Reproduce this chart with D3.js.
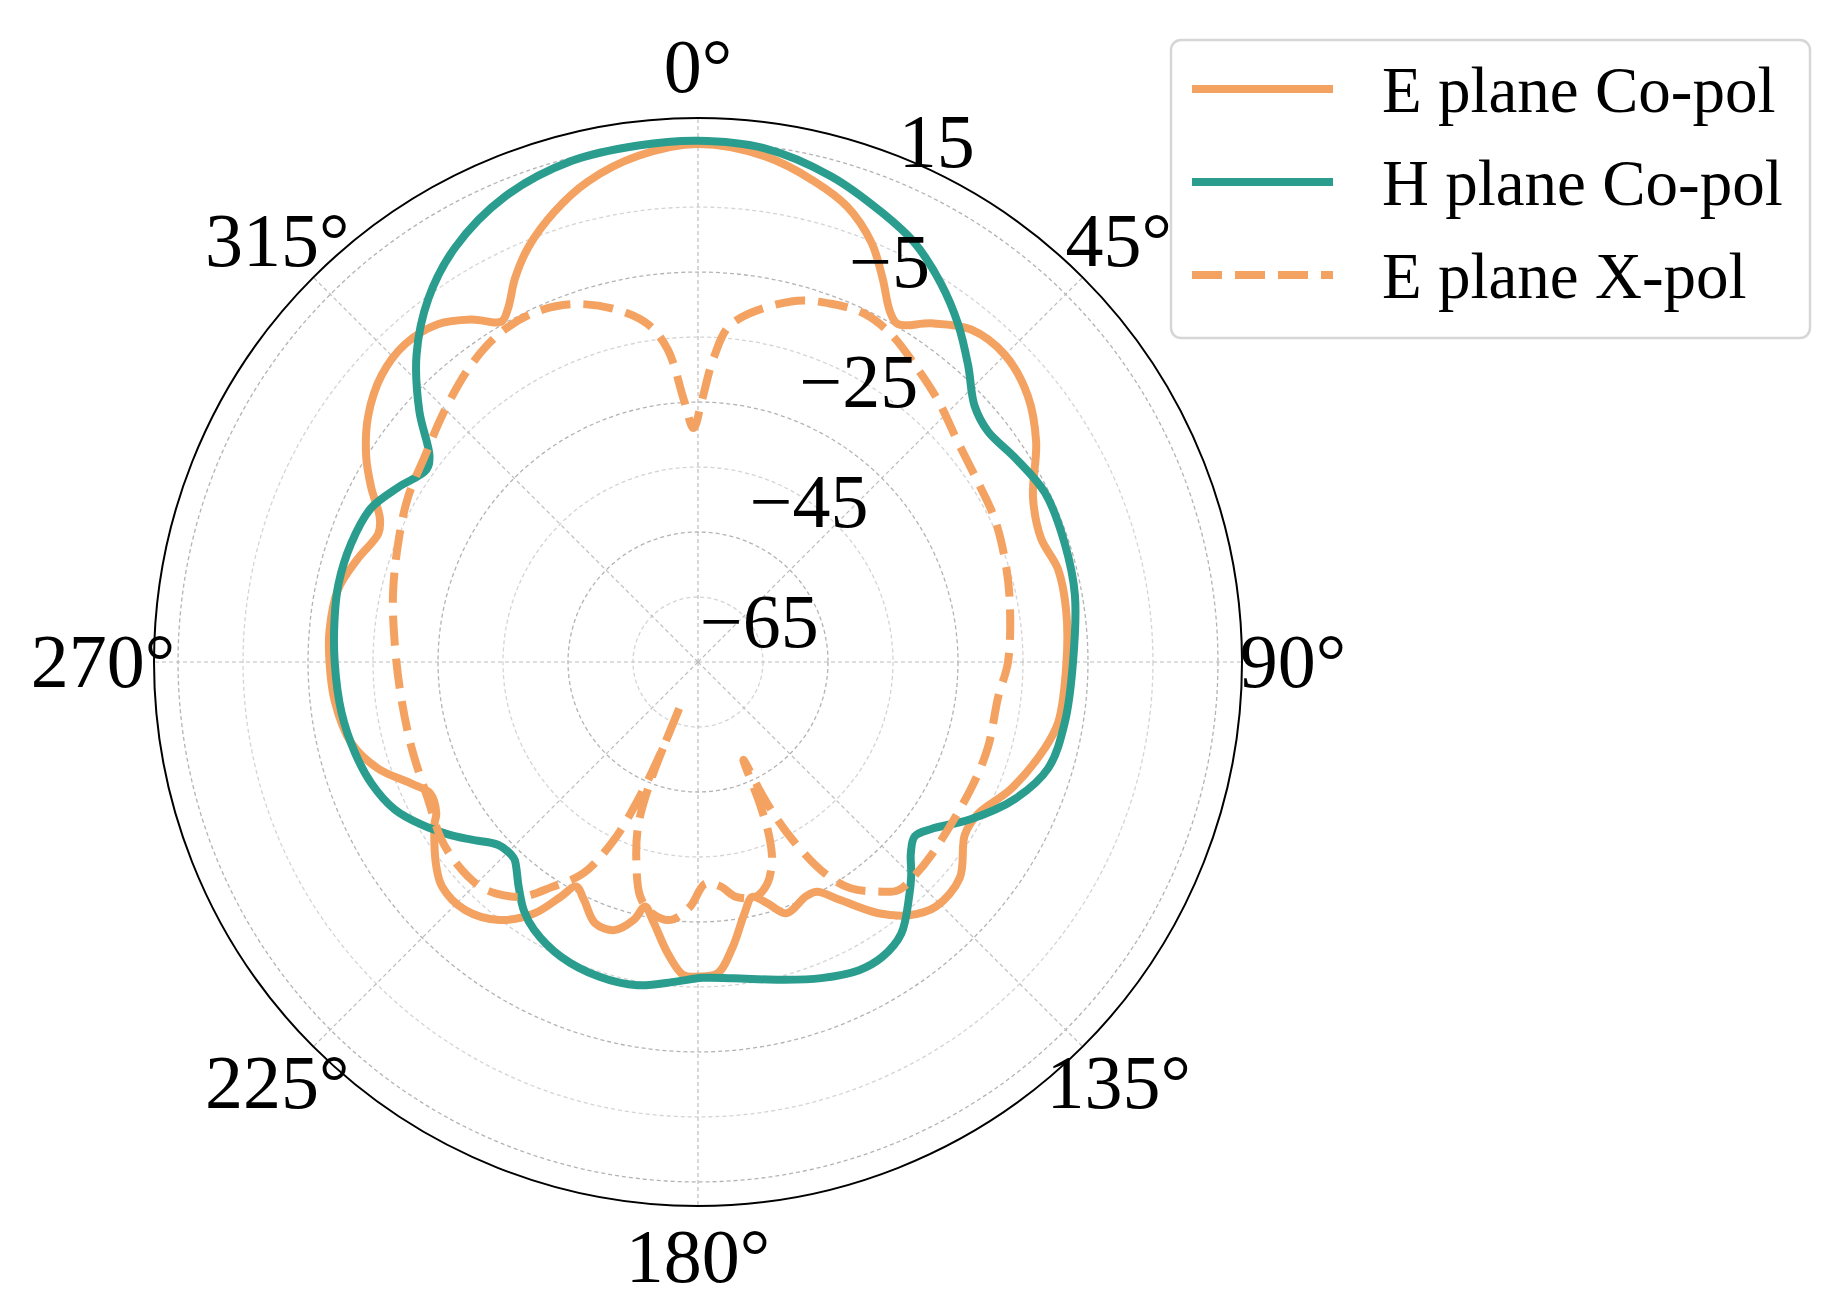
<!DOCTYPE html>
<html>
<head>
<meta charset="utf-8">
<script src="https://cdn.jsdelivr.net/npm/d3@7"></script>
<style>
  body { margin: 0; background: #fff; }
  svg { display: block; }
  text { font-family: 'Liberation Serif', 'Times New Roman', serif; fill: #000; }
</style>
</head>
<body>
<svg></svg>
<script>
/* E plane Co-pol (angle in degrees, gain in dB) */
let eCoAngle = [0, 7.5, 13.6, 18.2, 22.5, 25.7, 28.7, 30.6, 34.6, 39.4, 45, 51.1, 56.9, 63.9, 70.2, 75.5, 82, 90, 99.5, 103.9, 112, 118.5, 122.9, 129.5, 135.8, 140.2, 144.3, 149.2, 152.6, 155.3, 160.6, 164, 167, 169.5, 173, 176.4, 180, 182.7, 185.9, 190, 192.2, 194, 197.3, 201.5, 205.6, 208.5, 210.3, 213.1, 217.6, 223.2, 228.7, 232.2, 238.4, 240, 243.9, 247, 251.6, 256.9, 263.7, 270, 274.9, 281.4, 286.9, 291.9, 294.3, 298.1, 301.7, 306.7, 312.2, 317.3, 322.4, 326.5, 330, 331.7, 334.5, 337.7, 342.3, 347.1, 353.2]
let eCoDb = [4.7, 3.5, 1.1, -1.3, -5.2, -9.5, -13.5, -14.6, -11.7, -8.8, -8.2, -9.8, -12.9, -17.6, -18.9, -17.8, -17.8, -18.3, -18.8, -20, -23, -26, -26.1, -22.8, -22.5, -24.3, -27.4, -32.4, -35.2, -35.3, -34, -36.4, -37.9, -35.7, -30.9, -27, -26.6, -26.8, -29.9, -34.7, -36.5, -34.1, -31.8, -31.8, -34.4, -35.7, -33.2, -28.8, -24.9, -22.65, -22.6, -24, -27.4, -28.5, -29.1, -27.1, -23.1, -20.2, -18.8, -18.3, -18.1, -18.5, -20.3, -22, -21.3, -18, -15, -11.7, -9.3, -8.5, -9.4, -11.8, -14.5, -13.3, -9.6, -6.1, -2.3, 0.85, 3.4]

/* H plane Co-pol */
let hCoAngle = [0, 7.4, 15.3, 22.2, 27.3, 32.7, 37.6, 42.3, 47.2, 51.5, 57.1, 64, 72.1, 79.9, 90, 99.3, 106.9, 113.4, 120, 125.5, 128.8, 131.9, 135, 138, 143.2, 148, 152.4, 158.7, 165.1, 173.7, 179.2, 184, 190.6, 197.5, 205, 211.5, 215, 218.5, 222.8, 224, 227.6, 231.9, 235.4, 239.6, 244.1, 249.6, 255.2, 262, 270, 276.6, 282.1, 288.8, 295.2, 300.2, 305.3, 307.4, 312, 317.5, 323.4, 329.6, 337.4, 345.8, 353.4]
let hCoDb = [5.2, 4.7, 2.5, -0.25, -2.4, -5.8, -9.4, -13.25, -17, -18, -17, -15.6, -15.7, -16.1, -17.3, -17.8, -18.7, -21.9, -26.6, -30.8, -32.2, -31, -28.6, -26.45, -22.8, -21.5, -21.5, -22.8, -24.4, -26.05, -26.4, -25.7, -24.4, -24.25, -25, -26.7, -28.3, -30.7, -33.5, -33.7, -33.3, -30.7, -28.3, -25.6, -23.1, -21.4, -20.4, -19.6, -19.1, -18.7, -18.4, -18.6, -19.4, -21.6, -23.8, -23, -17.3, -10.9, -5.4, -1.1, 2.5, 4.5, 5.0]

/* E plane X-pol */
let eXAngle = [0.9, 3, 5.6, 14.5, 20.4, 25.6, 30.6, 36.1, 42.6, 49.7, 57.3, 64.1, 71.4, 78.7, 90, 96.6, 106.5, 114.9, 129.6, 134.5, 138.8, 142, 146, 149, 152, 154, 155.1, 156.5, 157.8, 159.5, 162.6, 166.3, 170.8, 174.3, 178.1, 181.9, 186, 190.4, 193.8, 197, 200, 201.7, 202, 202.3, 203.5, 205.3, 208.5, 212.9, 216.8, 221.2, 224.5, 229.8, 235.3, 243.1, 253.3, 263.3, 273.1, 282.4, 291.5, 299.5, 306.9, 314.7, 322.6, 328.6, 334.4, 340.5, 346.7, 351.6, 354.5, 356.9, 358.9]
let eXDb = [-34.6, -28, -22.8, -17.7, -16.2, -15.6, -16.5, -18.4, -20.4, -22.6, -23.8, -24.3, -25.2, -26.1, -27.3, -28.5, -28.5, -28.7, -28.4, -28.2, -28.3, -30.2, -33, -37, -44, -51, -58.4, -51, -46, -42.5, -39.3, -37.8, -38.4, -40.3, -40.9, -37.3, -35.1, -35.7, -37.8, -42.6, -48, -55, -67.9, -60, -52, -44.7, -38, -33.8, -29.9, -27.7, -26.8, -26.6, -27, -28.4, -29, -29, -28.3, -26.95, -25.4, -23.7, -22.4, -20.1, -17.5, -16, -15.6, -16.6, -19.2, -22.5, -26.75, -34.6, -39]

let seriesNames = ['E plane Co-pol', 'H plane Co-pol', 'E plane X-pol']
let gridValues = [-65, -55, -45, -35, -25, -15, -5, 5]
let rTickValues = [-65, -45, -25, -5, 15]
let angleTicks = [0, 45, 90, 135, 180, 225, 270, 315]

let svgWidth = 1837
let svgHeight = 1302
let cx = 698
let cy = 662
let outerR = 544
let orange = '#F4A261'
let green = '#2A9D8F'

let svg = d3.select('svg')
    .attr('width', svgWidth)
    .attr('height', svgHeight)

svg.append('rect')
    .attr('width', svgWidth)
    .attr('height', svgHeight)
    .attr('fill', '#fff')

let rScale = d3.scaleLinear().domain([-75, 8.7]).range([0, outerR])
let aScale = d3.scaleLinear().domain([0, 360]).range([0, 2 * Math.PI])

let plot = svg.append('g')
    .attr('transform', `translate(${cx}, ${cy})`)

/* Radial grid circles */
plot.selectAll('.ring')
  .data(gridValues)
  .enter()
  .append('circle')
    .classed('ring', true)
    .attr('r', d => rScale(d))
    .attr('fill', 'none')
    .attr('stroke', d => rTickValues.includes(d) ? '#d4d4d4' : '#b3b3b3')
    .attr('stroke-width', 1.3)
    .attr('stroke-dasharray', '4,3')

/* Angular grid spokes */
plot.selectAll('.spoke')
  .data(angleTicks)
  .enter()
  .append('line')
    .classed('spoke', true)
    .attr('x1', 0)
    .attr('y1', 0)
    .attr('x2', d => outerR * Math.sin(aScale(d)))
    .attr('y2', d => -outerR * Math.cos(aScale(d)))
    .attr('stroke', '#bdbdbd')
    .attr('stroke-width', 1.2)
    .attr('stroke-dasharray', '4,3')

/* Outer frame */
plot.append('circle')
    .attr('r', outerR)
    .attr('fill', 'none')
    .attr('stroke', '#000')
    .attr('stroke-width', 2)

/* Pattern curves */
let radial = d3.lineRadial()
    .angle(d => aScale(d[0]))
    .radius(d => rScale(d[1]))
    .curve(d3.curveCatmullRomClosed.alpha(0.5))

let series = [
  { name: seriesNames[0], data: d3.zip(eCoAngle, eCoDb), color: orange, dash: null },
  { name: seriesNames[1], data: d3.zip(hCoAngle, hCoDb), color: green, dash: null },
  { name: seriesNames[2], data: d3.zip(eXAngle, eXDb), color: orange, dash: '30,13' }
]

plot.selectAll('.curve')
  .data(series)
  .enter()
  .append('path')
    .classed('curve', true)
    .attr('d', d => radial(d.data))
    .attr('fill', 'none')
    .attr('stroke', d => d.color)
    .attr('stroke-width', 8)
    .attr('stroke-linejoin', 'round')
    .attr('stroke-dasharray', d => d.dash)

/* Angle labels */
plot.selectAll('.aLabel')
  .data(angleTicks)
  .enter()
  .append('text')
    .classed('aLabel', true)
    .attr('x', d => 595 * Math.sin(aScale(d)))
    .attr('y', d => -595 * Math.cos(aScale(d)))
    .attr('dy', '0.33em')
    .attr('text-anchor', 'middle')
    .style('font-size', '76px')
    .text(d => `${d}°`)

/* Radial labels along 22.5 degrees */
let labelAngle = aScale(22.5)
plot.selectAll('.rLabel')
  .data(rTickValues)
  .enter()
  .append('text')
    .classed('rLabel', true)
    .attr('x', d => rScale(d) * Math.sin(labelAngle) - 23)
    .attr('y', d => -rScale(d) * Math.cos(labelAngle) + 45)
    .style('font-size', '76px')
    .text(d => d < 0 ? `\u2212${Math.abs(d)}` : `${d}`)

/* Legend */
let legend = svg.append('g')

legend.append('rect')
    .attr('x', 1171)
    .attr('y', 40)
    .attr('width', 639)
    .attr('height', 298)
    .attr('rx', 10)
    .attr('fill', '#fff')
    .attr('stroke', '#d6d6d6')
    .attr('stroke-width', 2.5)

let rows = legend.selectAll('.row')
  .data(series)
  .enter()
  .append('g')
    .classed('row', true)
    .attr('transform', (d, i) => `translate(0, ${89 + i * 93})`)

rows.append('line')
    .attr('x1', 1192)
    .attr('x2', 1333)
    .attr('stroke', d => d.color)
    .attr('stroke-width', 8)
    .attr('stroke-dasharray', d => d.dash)

rows.append('text')
    .attr('x', 1382)
    .attr('y', 23)
    .style('font-size', '65px')
    .text(d => d.name)
</script>
</body>
</html>
